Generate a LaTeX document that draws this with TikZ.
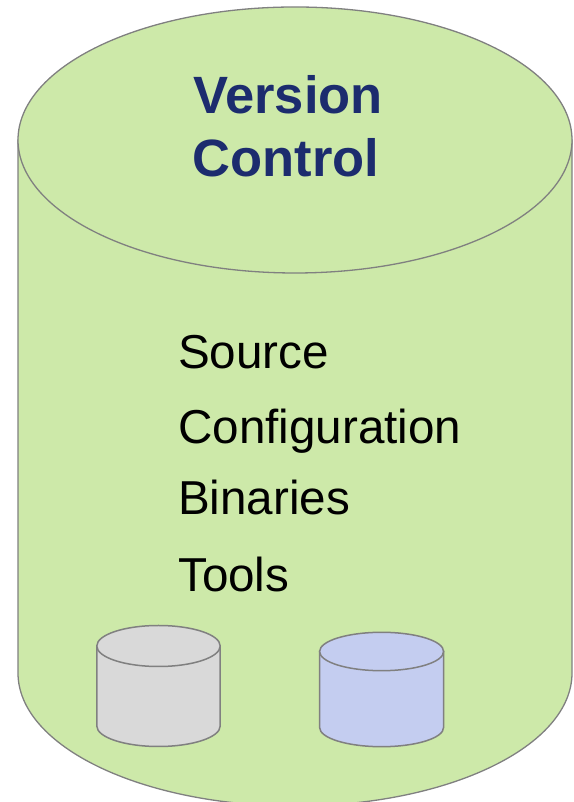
\documentclass[tikz,border=0pt]{standalone}
\usepackage{fontspec}
\setmainfont{Liberation Sans}
\definecolor{vcgreen}{HTML}{CDE9A9}
\definecolor{vcedge}{HTML}{808080}
\definecolor{vcnavy}{HTML}{1C2C6E}
\definecolor{storegray}{HTML}{D9D9D9}
\definecolor{storeblue}{HTML}{C4CDF0}
\tikzset{
  outline/.style={draw=vcedge, line width=1.3pt},
  title/.style={inner sep=0pt, anchor=base, text=vcnavy, font=\fontsize{52.5}{62}\selectfont\bfseries},
  item/.style={inner sep=0pt, anchor=base west, text=black, font=\fontsize{47.6}{56}\selectfont},
}
\begin{document}
\begin{tikzpicture}[x=1pt,y=1pt]
\useasboundingbox (0,0) rectangle (573,802);
% large repository cylinder: body, then lid
\path[outline, fill=vcgreen]
  (18,662) -- (18,129)
  arc[start angle=180, end angle=360, x radius=277, y radius=133]
  -- (572,662) -- cycle;
\path[outline, fill=vcgreen] (295,662) ellipse[x radius=277, y radius=133];
% title
\node[title] (ver) at (288,688.7) {Version};
\node[title] (ctl) at (286,625.3) {Control};
% contents
\node[item] (src) at (178,433.7) {Source};
\node[item] (cfg) at (178,358.7) {Configuration};
\node[item] (bin) at (178,287) {Binaries};
\node[item] (tls) at (178,210.3) {Tools};
% small gray store
\path[outline, line width=1.5pt, fill=storegray]
  (96.8,156) -- (96.8,76)
  arc[start angle=180, end angle=360, x radius=61.7, y radius=20.5]
  -- (220.2,156) -- cycle;
\path[outline, line width=1.5pt, fill=storegray] (158.5,156) ellipse[x radius=61.7, y radius=20.5];
% small blue store
\path[outline, line width=1.5pt, fill=storeblue]
  (319.6,150.5) -- (319.6,74.5)
  arc[start angle=180, end angle=360, x radius=62, y radius=19.2]
  -- (443.6,150.5) -- cycle;
\path[outline, line width=1.5pt, fill=storeblue] (381.6,150.5) ellipse[x radius=62, y radius=19.2];
\end{tikzpicture}
\end{document}
